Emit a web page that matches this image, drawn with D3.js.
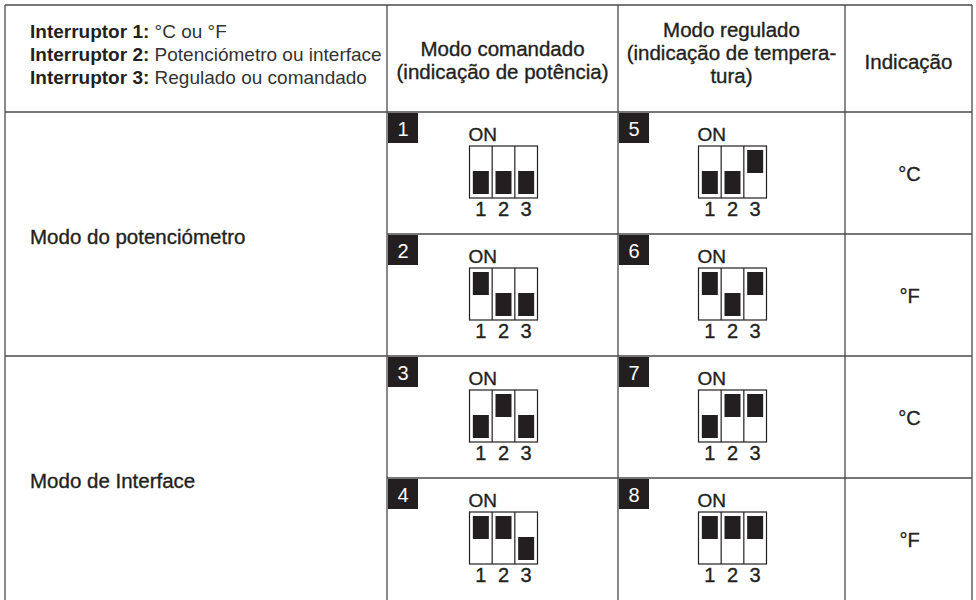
<!DOCTYPE html>
<html><head><meta charset="utf-8">
<script src="https://cdn.jsdelivr.net/npm/d3@7"></script>
<style>
body{margin:0;background:#fff}
svg{display:block}
text{font-family:"Liberation Sans",Arial,sans-serif;fill:#231f20}
.med{stroke:#231f20;stroke-width:0.35px}
</style>
</head><body><svg id="c" width="976" height="600"></svg>
<script>
// ---- data ----
const switchLabels = ["Interruptor 1:", "Interruptor 2:", "Interruptor 3:"];
const switchMeanings = ["°C ou °F", "Potenciómetro ou interface", "Regulado ou comandado"];
const commandedHeader = ["Modo comandado", "(indicação de potência)"];
const regulatedHeader = ["Modo regulado", "(indicação de tempera-", "tura)"];
const indicationHeader = ["Indicação"];
const modes = ["Modo do potenciómetro", "Modo de Interface"];
const commandedIds = [1, 2, 3, 4];
const commandedStates = [[0,0,0],[1,0,0],[0,1,0],[1,1,0]];
const regulatedIds = [5, 6, 7, 8];
const regulatedStates = [[0,0,1],[1,0,1],[0,1,1],[1,1,1]];
const indications = ["°C", "°F", "°C", "°F"];
const switchNumbers = [1, 2, 3];

// ---- layout ----
const svg = d3.select("#c");
const W = 976, H = 600;
const colEdges = [5, 387, 618, 845, 972];
const tableTop = 5, headerBottom = 112, tableBottom = 600;
const LINE = "#4a4a4a", INK = "#231f20";
const FS = 20.5;

const rowY = d3.scaleBand().domain(d3.range(4)).range([headerBottom, tableBottom]);
const groupY = d3.scaleBand().domain(d3.range(2)).range([headerBottom, tableBottom]);
const colX = i => colEdges[i];
const colC = i => (colEdges[i] + colEdges[i + 1]) / 2;

svg.append("rect").attr("width", W).attr("height", H).attr("fill", "#fff");

// ---- grid lines ----
const g = svg.append("g").attr("stroke", LINE).attr("stroke-width", 1.3).attr("fill", "none");
const hLines = [
  [colEdges[0], colEdges[4], tableTop],
  [colEdges[0], colEdges[4], headerBottom],
  [colEdges[0], colEdges[4], groupY(1)],
  [colEdges[1], colEdges[4], rowY(1)],
  [colEdges[1], colEdges[4], rowY(3)]
];
g.selectAll("line.h").data(hLines).join("line").attr("class", "h")
  .attr("x1", d => d[0]).attr("x2", d => d[1]).attr("y1", d => d[2]).attr("y2", d => d[2]);
g.selectAll("line.v").data(colEdges).join("line").attr("class", "v")
  .attr("x1", d => d).attr("x2", d => d).attr("y1", tableTop).attr("y2", tableBottom);

// ---- header ----
const lineGap = 23;
const hdr1 = svg.append("g");
switchLabels.forEach((lab, i) => {
  const t = hdr1.append("text").attr("x", 30).attr("y", 38 + i * lineGap).attr("font-size", 19);
  t.append("tspan").attr("font-weight", "bold").text(lab + " ");
  t.append("tspan").attr("fill", "#333").text(switchMeanings[i]);
});

function centeredLines(lines, cx, firstBaseline) {
  svg.append("g").selectAll("text").data(lines).join("text")
    .attr("class", "med")
    .attr("x", cx).attr("text-anchor", "middle").attr("font-size", FS)
    .attr("y", (d, i) => firstBaseline + i * lineGap)
    .text(d => d);
}
centeredLines(commandedHeader, colC(1), 56);
centeredLines(regulatedHeader, colC(2), 37);
centeredLines(indicationHeader, colC(3), 69);

// ---- row labels ----
svg.append("g").selectAll("text").data(modes).join("text")
  .attr("class", "med")
  .attr("x", 30).attr("y", (d, i) => groupY(i) + groupY.bandwidth() / 2 + 10)
  .attr("font-size", FS).text(d => d);

// ---- indications ----
svg.append("g").selectAll("text").data(indications).join("text")
  .attr("class", "med")
  .attr("x", colC(3) + 1).attr("y", (d, i) => rowY(i) + rowY.bandwidth() / 2 + 8)
  .attr("text-anchor", "middle").attr("font-size", 20).text(d => d);

// ---- switch cells ----
const boxW = 68, boxH = 52, knobW = 16, knobH = 23;
const slotX = d3.scaleBand().domain(switchNumbers).range([0, boxW]);
const knobY = d3.scaleOrdinal().domain([1, 0]).range([4, boxH - 3 - knobH - 1]);

function drawCells(col, ids, states) {
  const cells = svg.append("g").selectAll("g").data(ids).join("g")
    .attr("transform", (d, i) => `translate(${colX(col)},${rowY(i)})`);
  // badge
  cells.append("rect").attr("x", 1).attr("y", 1).attr("width", 30).attr("height", 30).attr("fill", INK);
  cells.append("text").attr("x", 16).attr("y", 24).attr("text-anchor", "middle")
    .attr("font-size", 20).style("fill", "#fff").text(d => d);
  // switch block
  const bx = colC(col) - colX(col) - boxW / 2 + 1, by = 34;
  const sw = cells.append("g").attr("transform", `translate(${bx},${by})`);
  sw.append("text").attr("class", "med").attr("x", -1).attr("y", -5).attr("font-size", 19).text("ON");
  sw.append("rect").attr("width", boxW).attr("height", boxH)
    .attr("fill", "#fff").attr("stroke", INK).attr("stroke-width", 1.2);
  sw.selectAll("line.div").data(switchNumbers.slice(1)).join("line").attr("class", "div")
    .attr("x1", d => slotX(d)).attr("x2", d => slotX(d)).attr("y1", 0).attr("y2", boxH)
    .attr("stroke", INK).attr("stroke-width", 1.2);
  sw.selectAll("rect.knob").data((d, i) => states[i].map((s, k) => ({ s, n: switchNumbers[k] })))
    .join("rect").attr("class", "knob")
    .attr("x", d => slotX(d.n) + (slotX.bandwidth() - knobW) / 2)
    .attr("y", d => knobY(d.s))
    .attr("width", knobW).attr("height", knobH).attr("fill", INK);
  sw.selectAll("text.num").data(switchNumbers).join("text").attr("class", "num med")
    .attr("x", d => slotX(d) + slotX.bandwidth() / 2).attr("y", boxH + 18)
    .attr("text-anchor", "middle").attr("font-size", 20).text(d => d);
}
drawCells(1, commandedIds, commandedStates);
drawCells(2, regulatedIds, regulatedStates);
</script>
</body></html>
